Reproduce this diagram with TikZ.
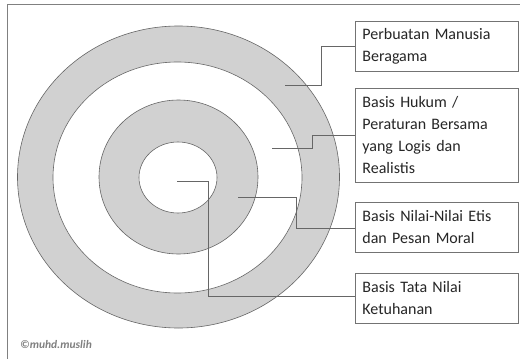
\documentclass[tikz,border=0pt]{standalone}
\usepackage{fontspec}
\setmainfont{Carlito}
\begin{document}
\begin{tikzpicture}[x=1pt,y=-1pt,
  ring/.style={draw=black!60,line width=0.6pt},
  lbl/.style={draw=black!55,line width=0.8pt,fill=white,minimum width=163pt,text width=149pt,align=left,inner xsep=7pt,inner ysep=3pt,anchor=north west,font=\fontsize{16}{22}\selectfont,text=black!85},
  conn/.style={draw=black!60,line width=0.8pt}]
\useasboundingbox (0,0) rectangle (520,359);
\fill[white] (0,0) rectangle (520,359);
\draw[black!50,line width=0.8pt] (7,359) -- (7,4) -- (520,4);
% rings
\draw[ring,fill=black!18] (178.5,177) ellipse [x radius=161,y radius=151];
\draw[ring,fill=white] (177.5,177.5) ellipse [x radius=124.5,y radius=115.5];
\draw[ring,fill=black!18] (178.5,177) ellipse [x radius=79.5,y radius=77];
\draw[ring,fill=white] (178,177.5) ellipse [x radius=39,y radius=35.5];
% boxes
\node[lbl,minimum height=50pt] (b1) at (355,21) {Perbuatan Manusia\\Beragama};
\node[lbl,minimum height=94pt] (b2) at (355,88) {Basis Hukum /\\Peraturan Bersama\\yang Logis dan\\Realistis};
\node[lbl,minimum height=50pt] (b3) at (355,202) {Basis Nilai-Nilai Etis\\dan Pesan Moral};
\node[lbl,minimum height=50pt] (b4) at (355,273) {Basis Tata Nilai\\Ketuhanan};
% connector ends
\coordinate (p1) at (285,85);
\coordinate (p2) at (272,148);
\coordinate (p3) at (238,197);
\coordinate (p4) at (177,181);
\draw[conn] (p1) -- (321,85) -- (321,46) -- (b1.west |- 0,46);
\draw[conn] (p2) -- (312,148) -- (312,135) -- (b2.west |- 0,135);
\draw[conn] (p3) -- (296,197) -- (296,228) -- (b3.west |- 0,228);
\draw[conn] (p4) -- (208,181) -- (208,296) -- (b4.west |- 0,296);
\node[anchor=west,inner sep=0pt,font=\fontsize{11.5}{12}\selectfont\bfseries\itshape,text=black!50] (cr) at (20,345) {©muhd.muslih};
\end{tikzpicture}
\end{document}
